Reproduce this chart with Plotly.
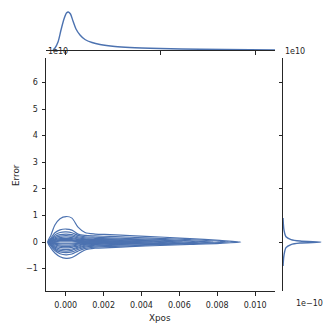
import plotly.graph_objects as go

# Xpos / Error (Error in units of 1e10)
xs = [-0.00078, -0.00057, -0.00030, 0.00002, 0.00033, 0.00065, 0.00102,
      0.00155, 0.00234, 0.00339, 0.00498, 0.00656, 0.00814]

contour_left = [-0.00095, -0.00093, -0.00091, -0.00089, -0.00087,
                -0.00085, -0.00083, -0.00082, -0.00081, -0.00080]
contour_right = [0.00924, 0.0086, 0.0078, 0.0070, 0.0062,
                 0.0054, 0.0046, 0.0038, 0.0030, 0.0022]
contour_upper = [
    [0.26, 0.64, 0.88, 0.96, 0.90, 0.56, 0.36, 0.30, 0.28, 0.24, 0.19, 0.13, 0.06],
    [0.15, 0.35, 0.46, 0.49, 0.45, 0.30, 0.25, 0.23, 0.21, 0.18, 0.14, 0.09, 0.03],
    [0.11, 0.27, 0.36, 0.38, 0.35, 0.25, 0.20, 0.18, 0.16, 0.13, 0.10, 0.05],
    [0.08, 0.21, 0.28, 0.30, 0.28, 0.20, 0.16, 0.14, 0.12, 0.10, 0.07, 0.03],
    [0.06, 0.16, 0.22, 0.24, 0.22, 0.16, 0.12, 0.10, 0.09, 0.07, 0.04],
    [0.04, 0.12, 0.17, 0.19, 0.17, 0.12, 0.09, 0.08, 0.07, 0.05, 0.02],
    [0.03, 0.09, 0.13, 0.14, 0.13, 0.09, 0.07, 0.06, 0.05, 0.03],
    [0.02, 0.06, 0.09, 0.10, 0.09, 0.06, 0.05, 0.04, 0.03, 0.015],
    [0.01, 0.04, 0.06, 0.06, 0.06, 0.04, 0.03, 0.025, 0.02],
    [0.005, 0.02, 0.03, 0.03, 0.03, 0.02, 0.015, 0.01],
]
contour_lower = [
    [-0.23, -0.41, -0.55, -0.61, -0.58, -0.45, -0.30, -0.23, -0.21, -0.17, -0.13, -0.09, -0.05],
    [-0.15, -0.32, -0.44, -0.48, -0.45, -0.34, -0.24, -0.19, -0.17, -0.14, -0.10, -0.06, -0.02],
    [-0.12, -0.27, -0.37, -0.40, -0.37, -0.28, -0.19, -0.15, -0.13, -0.11, -0.08, -0.04],
    [-0.10, -0.23, -0.31, -0.34, -0.31, -0.23, -0.15, -0.12, -0.10, -0.08, -0.05, -0.02],
    [-0.08, -0.19, -0.26, -0.28, -0.26, -0.19, -0.12, -0.09, -0.08, -0.06, -0.03],
    [-0.06, -0.15, -0.20, -0.22, -0.20, -0.15, -0.09, -0.07, -0.06, -0.04, -0.02],
    [-0.04, -0.11, -0.15, -0.17, -0.15, -0.11, -0.07, -0.05, -0.04, -0.02],
    [-0.03, -0.08, -0.11, -0.12, -0.11, -0.08, -0.05, -0.04, -0.03, -0.015],
    [-0.02, -0.05, -0.07, -0.07, -0.07, -0.05, -0.03, -0.025, -0.02],
    [-0.01, -0.025, -0.035, -0.035, -0.035, -0.025, -0.015, -0.01],
]

# marginal densities (arbitrary units)
top_x = [-0.00067, -0.000565, -0.000406, -0.000248, -0.00009, 0.000042, 0.000137,
         0.000253, 0.000385, 0.000544, 0.000755, 0.001018, 0.001388, 0.00181,
         0.0026, 0.00339, 0.00498, 0.00709, 0.00973, 0.01105]
top_density = [0, 2, 8, 20, 31, 37, 38, 36, 29, 21, 15, 10.5, 7.5, 5.5,
               3.5, 2.5, 1.5, 0.7, 0.2, 0.05]

right_y = [0.9, 0.71, 0.45, 0.20, 0.094, 0.038, 0, -0.038, -0.094, -0.21, -0.49, -0.75, -0.9]
right_density = [0.05, 0.3, 1, 3, 8, 17, 38, 17, 8, 3, 1, 0.3, 0.05]

x_ticks = [0.0, 0.002, 0.004, 0.006, 0.008, 0.010]
y_ticks = [-1, 0, 1, 2, 3, 4, 5, 6]

blue = "#4c72b0"
ink = "#262626"
W = H = 332

fig = go.Figure()

for i in range(len(contour_left)):
    n = len(contour_upper[i])
    cx = [contour_left[i]] + xs[:n] + [contour_right[i]] + xs[:n][::-1] + [contour_left[i]]
    cy = [0] + contour_upper[i] + [0] + contour_lower[i][::-1] + [0]
    fig.add_trace(go.Scatter(x=cx, y=cy, mode="lines", xaxis="x", yaxis="y",
                             line=dict(color=blue, width=1.2, shape="spline", smoothing=0.8),
                             hoverinfo="skip", showlegend=False))

fig.add_trace(go.Scatter(x=top_x, y=top_density, mode="lines", xaxis="x2", yaxis="y2",
                         line=dict(color=blue, width=1.4, shape="spline", smoothing=0.8),
                         showlegend=False))
fig.add_trace(go.Scatter(x=right_density, y=right_y, mode="lines", xaxis="x3", yaxis="y3",
                         line=dict(color=blue, width=1.4, shape="spline", smoothing=0.8),
                         showlegend=False))

def px_x(p):
    return p / W

def px_y(p):
    return 1 - p / H

tick_font = dict(family="DejaVu Sans", size=8, color=ink)
common = dict(showline=True, linecolor=ink, linewidth=1, ticks="outside",
              ticklen=3.5, tickwidth=1, tickcolor=ink, showgrid=False,
              zeroline=False, tickfont=tick_font)

fig.update_layout(
    width=W, height=H, margin=dict(l=0, r=0, t=0, b=0),
    paper_bgcolor="white", plot_bgcolor="white",
    xaxis=dict(domain=[px_x(46), px_x(275)], range=[-0.00104, 0.01105],
               tickvals=x_ticks, tickformat=".3f", anchor="y",
               ticklabelstandoff=3, **common),
    yaxis=dict(domain=[px_y(291), px_y(58)], range=[-1.84, 6.92],
               tickvals=y_ticks, anchor="x", ticklabelstandoff=2, **common),
    xaxis2=dict(domain=[px_x(46), px_x(275)], matches="x", anchor="y2",
                showticklabels=False, **common),
    yaxis2=dict(domain=[px_y(50), px_y(4)], range=[0, 46], visible=False, anchor="x2"),
    xaxis3=dict(domain=[px_x(283), px_x(329)], range=[0, 46], visible=False, anchor="y3"),
    yaxis3=dict(domain=[px_y(291), px_y(58)], matches="y", anchor="x3",
                showticklabels=False, **common),
)

label_font = dict(family="DejaVu Sans", size=8.8, color=ink)
fig.add_annotation(text="Xpos", xref="paper", yref="paper", x=px_x(160), y=px_y(318),
                   xanchor="center", yanchor="middle", showarrow=False, font=label_font)
fig.add_annotation(text="Error", xref="paper", yref="paper", x=px_x(16), y=px_y(175),
                   xanchor="center", yanchor="middle", textangle=-90,
                   showarrow=False, font=label_font)
fig.add_annotation(text="1e10", xref="paper", yref="paper", x=px_x(46), y=px_y(52),
                   xanchor="left", yanchor="middle", showarrow=False, font=tick_font)
fig.add_annotation(text="1e10", xref="paper", yref="paper", x=px_x(283), y=px_y(52),
                   xanchor="left", yanchor="middle", showarrow=False, font=tick_font)
fig.add_annotation(text="1e\u221210", xref="paper", yref="paper", x=px_x(294), y=px_y(303),
                   xanchor="left", yanchor="middle", showarrow=False, font=tick_font)

fig.write_html("out.html", config={"displayModeBar": False},
               post_script="document.body.style.margin='0';")
